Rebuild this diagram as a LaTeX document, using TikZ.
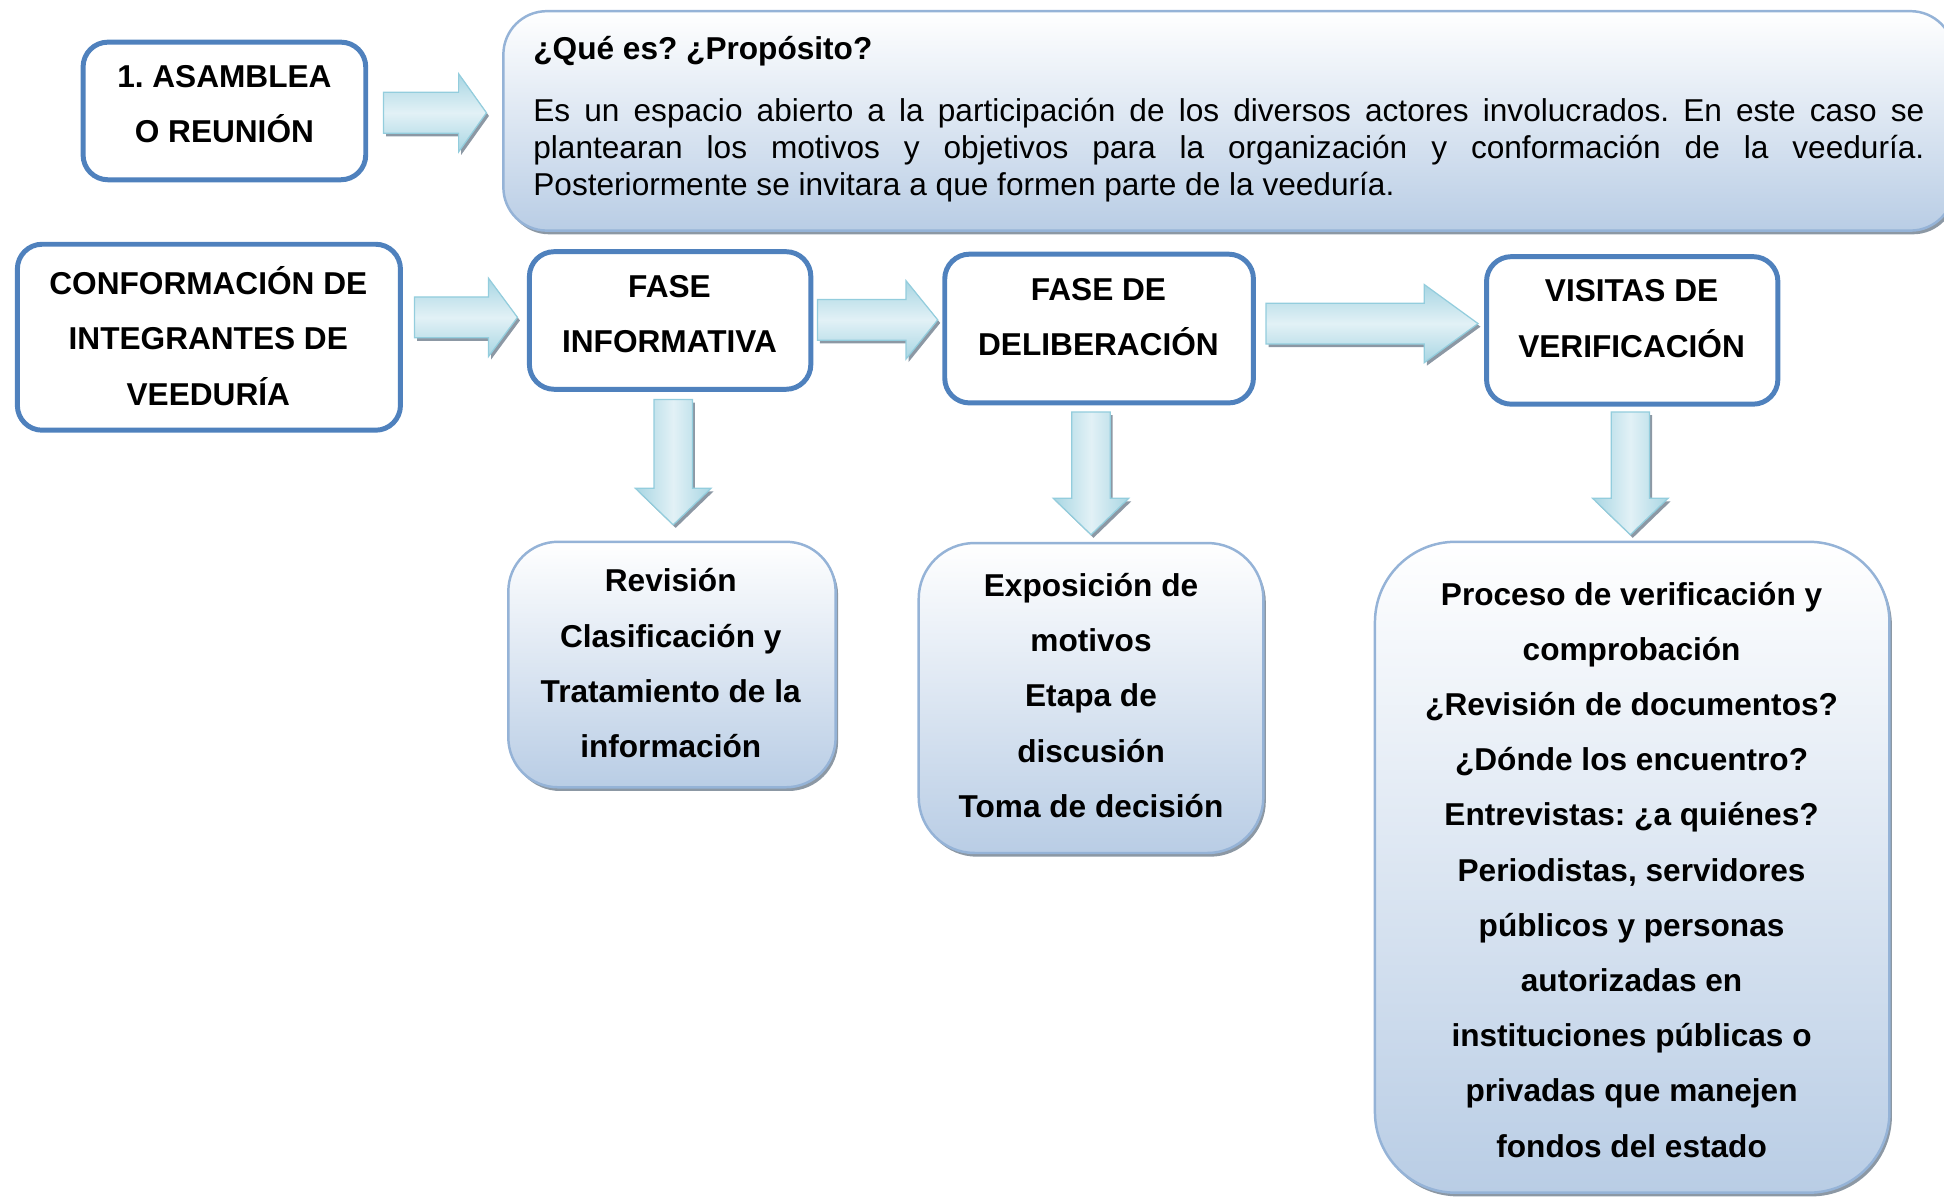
\documentclass[tikz,border=0pt]{standalone}
\usepackage{fontspec}
\setmainfont{Liberation Sans}
\usetikzlibrary{shapes.arrows,shadows,calc}
\definecolor{boxblue}{RGB}{79,129,189}
\definecolor{infoedge}{RGB}{149,179,215}
\definecolor{infofill}{RGB}{185,205,229}
\definecolor{arrowedge}{RGB}{147,205,221}
\definecolor{arrowdark}{RGB}{168,214,227}
\definecolor{arrowlight}{RGB}{226,241,246}
\definecolor{shadowgray}{RGB}{140,152,164}
\tikzset{
  phasebox/.style={draw=boxblue, line width=4pt, fill=white, rounded corners=20pt, outer sep=0pt},
  infobox/.style={draw=infoedge, line width=2pt, top color=white, bottom color=infofill,
    rounded corners=#1, outer sep=0pt,
    drop shadow={shadow xshift=2pt, shadow yshift=-3pt, fill=shadowgray, opacity=1}},
  infobox/.default=35pt,
  boxtext/.style={font=\fontsize{25.5}{44.5}\selectfont\bfseries, align=center, inner sep=0pt},
  blockarrow/.style={single arrow, anchor=tip, draw=arrowedge, line width=1pt, inner sep=16pt,
    single arrow head extend=15pt, minimum width=62pt,
    top color=arrowdark, bottom color=arrowdark, middle color=arrowlight,
    drop shadow={shadow xshift=2pt, shadow yshift=-2.5pt, fill=shadowgray, opacity=1}},
  downarrow/.style={single arrow, anchor=tip, shape border rotate=270, draw=arrowedge, line width=1pt, inner sep=15pt,
    single arrow head extend=15pt, minimum width=60pt, single arrow tip angle=92,
    left color=arrowdark, right color=arrowdark, middle color=arrowlight,
    drop shadow={shadow xshift=2pt, shadow yshift=-2.5pt, fill=shadowgray, opacity=1}}
}
\frenchspacing
\begin{document}
\begin{tikzpicture}[x=1pt,y=-1pt]
\useasboundingbox (0,0) rectangle (1568,966);
% cajas de fases
\node[phasebox, minimum width=228pt, minimum height=111pt] (asamblea) at (181,89.5) {};
\node[phasebox, minimum width=309pt, minimum height=150pt] (conf) at (168.5,272) {};
\node[phasebox, minimum width=227pt, minimum height=111pt] (faseinf) at (540.5,258.5) {};
\node[phasebox, minimum width=249pt, minimum height=120pt] (delib) at (886.5,265) {};
\node[phasebox, minimum width=235pt, minimum height=119pt] (visitas) at (1316.5,266.5) {};
% cajas con degradado
\node[infobox, minimum width=1170pt, minimum height=177pt] (que) at (991,97.5) {};
\node[infobox=40pt, minimum width=264pt, minimum height=198pt] (revision) at (542,536) {};
\node[infobox=45pt, minimum width=278pt, minimum height=250pt] (exposicion) at (880,563) {};
\node[infobox=65pt, minimum width=415pt, minimum height=525pt] (proceso) at (1316.5,699.5) {};
% textos
\node[boxtext] (asambleatext) at (181,84) {1. ASAMBLEA\\O REUNIÓN};
\node[boxtext] (conftext) at (168,271) {CONFORMACIÓN DE\\INTEGRANTES DE\\VEEDURÍA};
\node[boxtext] (faseinftext) at (540,253.5) {FASE\\INFORMATIVA};
\node[boxtext] (delibtext) at (886,255.5) {FASE DE\\DELIBERACIÓN};
\node[boxtext] (visitastext) at (1316,257) {VISITAS DE\\VERIFICACIÓN};
\node[boxtext] (revisiontext) at (541,535) {Revisión\\Clasificación y\\Tratamiento de la\\información};
\node[boxtext] (exposiciontext) at (880,561) {Exposición de\\motivos\\Etapa de\\discusión\\Toma de decisión};
\node[boxtext] (procesotext) at (1316,701.5) {Proceso de verificación y\\comprobación\\¿Revisión de documentos?\\¿Dónde los encuentro?\\Entrevistas: ¿a quiénes?\\Periodistas, servidores\\públicos y personas\\autorizadas en\\instituciones públicas o\\privadas que manejen\\fondos del estado};
\node[anchor=west, inner sep=0pt, font=\fontsize{25.5}{30}\selectfont\bfseries] (quetitle) at (430,41) {¿Qué es? ¿Propósito?};
\node[anchor=west, inner sep=0pt] (quetext) at (430,121)
  {\parbox{1122pt}{\fontsize{25.5}{30}\selectfont\hyphenpenalty=10000
   Es un espacio abierto a la participación de los diversos actores involucrados. En este caso se\linebreak
   plantearan los motivos y objetivos para la organización y conformación de la veeduría.\linebreak
   Posteriormente se invitara a que formen parte de la veeduría.}};
% flechas
\node[blockarrow, minimum height=83pt, single arrow tip angle=109] (toque) at ($(que.west)+(-13,-6.5)$) {};
\node[blockarrow, minimum height=83pt, single arrow tip angle=107] (tofaseinf) at ($(faseinf.west)+(-9,-2.5)$) {};
\node[blockarrow, minimum height=97pt, single arrow tip angle=102] (todelib) at ($(delib.west)+(-5,-7)$) {};
\node[blockarrow, minimum height=171pt, single arrow tip angle=72] (tovisitas) at ($(visitas.west)+(-6,-5.5)$) {};
\node[downarrow, minimum height=101pt] (torevision) at ($(revision.north)+(1,-13)$) {};
\node[downarrow, minimum height=99pt] (toexposicion) at ($(exposicion.north)+(0,-6)$) {};
\node[downarrow, minimum height=99pt] (toproceso) at ($(proceso.north)+(-1.5,-5)$) {};
\end{tikzpicture}
\end{document}
